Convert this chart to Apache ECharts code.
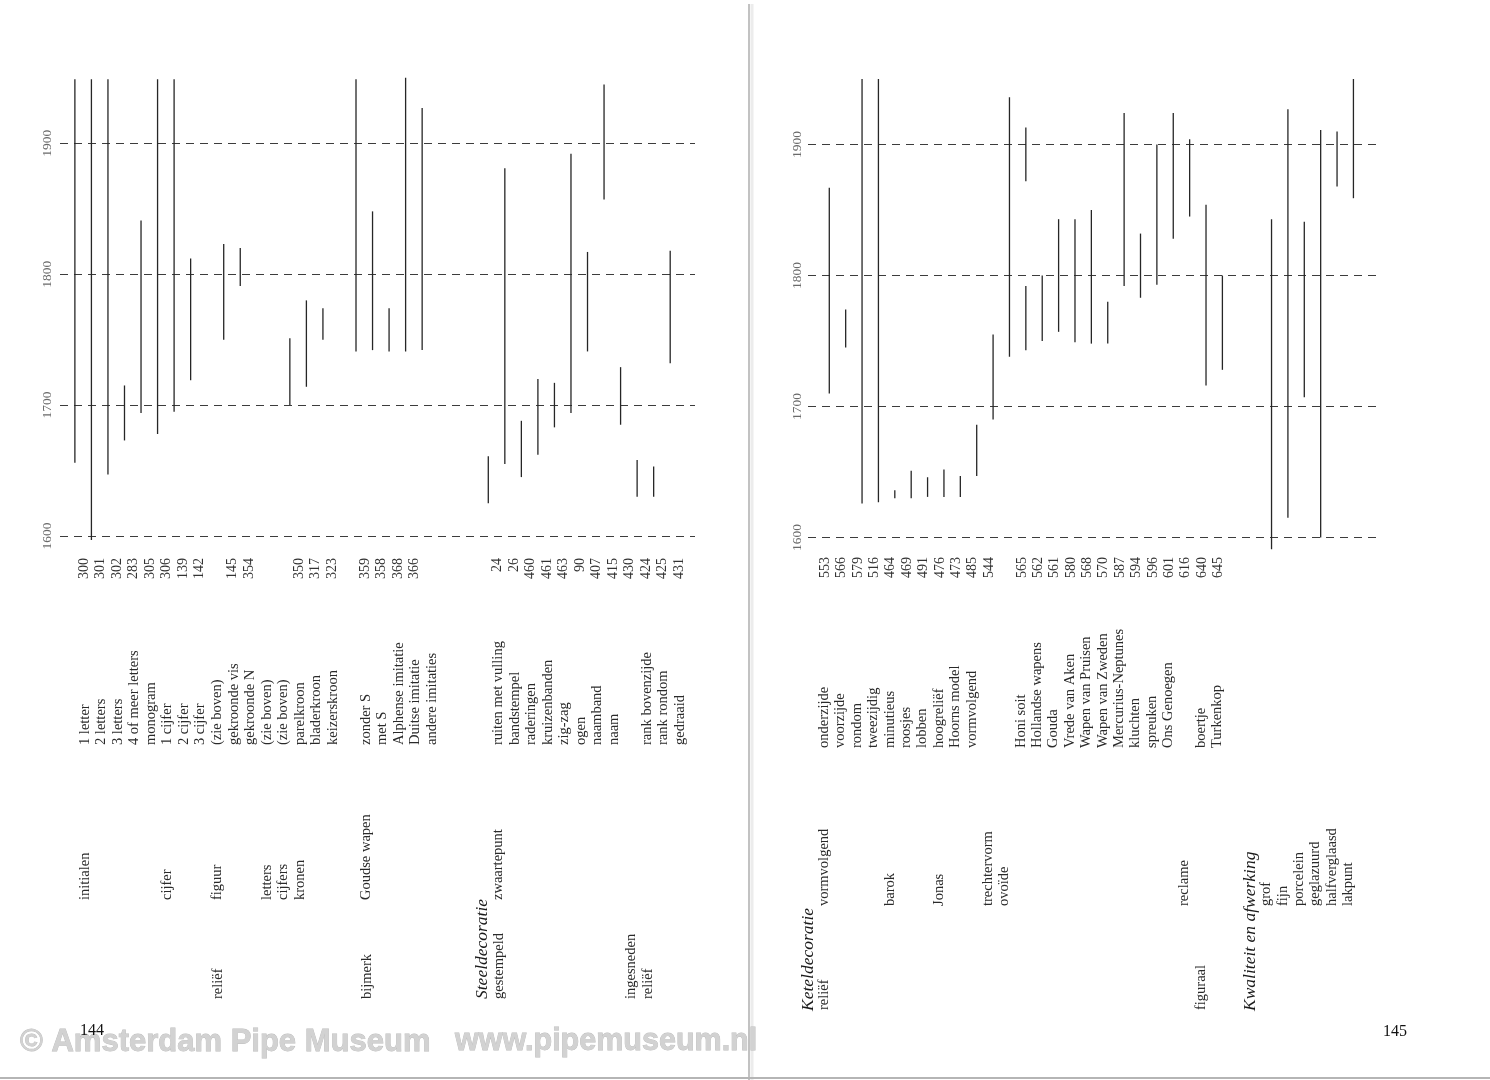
<!DOCTYPE html>
<html>
<head>
<meta charset="utf-8">
<script src="https://cdn.jsdelivr.net/npm/echarts@6/dist/echarts.min.js"></script>
<style>
html,body{margin:0;padding:0;background:#ffffff;}
#c{width:1490px;height:1080px;}
</style>
</head>
<body>
<div id="c"></div>
<script>
// ---------- data (years) ----------
const yearTicks = [1600, 1700, 1800, 1900];

// page 144 (left)
const leftNumbers = ['300','301','302','283','305','306','139','142','','145','354','','','350','317','323','','359','358','368','366','','','','','24','26','460','461','463','90','407','415','430','424','425','431'];
const leftNames = ['1 letter','2 letters','3 letters','4 of meer letters','monogram','1 cijfer','2 cijfer','3 cijfer','(zie boven)','gekroonde vis','gekroonde N','(zie boven)','(zie boven)','parelkroon','bladerkroon','keizerskroon','','zonder S','met S','Alphense imitatie','Duitse imitatie','andere imitaties','','','','ruiten met vulling','bandstempel','raderingen','kruizenbanden','zig-zag','ogen','naamband','naam','','rank bovenzijde','rank rondom','gedraaid'];
const leftLineSlots = [0,1,2,3,4,5,6,7,9,10,13,14,15,17,18,19,20,21,25,26,27,28,29,30,31,32,33,34,35,36];
const leftLineStart = [1656,1597,1647,1673,1694,1678,1695,1719,1750,1791,1700,1714,1750,1741,1742,1741,1741,1742,1625,1655,1645,1662,1683,1694,1741,1857,1685,1630,1630,1732];
const leftLineEnd   = [1949,1949,1949,1715,1841,1949,1949,1812,1823,1820,1751,1780,1774,1949,1848,1774,1950,1927,1661,1881,1688,1720,1717,1892,1817,1945,1729,1658,1653,1818];
const leftGroupSlots = [0,5,8,11,12,13,17,25];
const leftGroups = ['initialen','cijfer','figuur','letters','cijfers','kronen','Goudse wapen','zwaartepunt'];
const leftKindSlots = [8,17,25,33,34];
const leftKinds = ['reliëf','bijmerk','gestempeld','ingesneden','reliëf'];
const leftHeadingSlots = [24];
const leftHeadings = ['Steeldecoratie'];

// page 145 (right)
const rightNumbers = ['553','566','579','516','464','469','491','476','473','485','544','','565','562','561','580','568','570','587','594','596','601','616','640','645'];
const rightNames = ['onderzijde','voorzijde','rondom','tweezijdig','minutieus','roosjes','lobben','hoogreliëf','Hoorns model','vormvolgend','','','Honi soit','Hollandse wapens','Gouda','Vrede van Aken','Wapen van Pruisen','Wapen van Zweden','Mercurius-Neptunes','kluchten','spreuken','Ons Genoegen','','boertje','Turkenkop'];
const rightLineSlots = [0,1,2,3,4,5,6,7,8,9,10,11,12,12,13,14,15,16,17,18,19,20,21,22,23,24,27,28,29,30,31,32];
const rightLineStart = [1710,1745,1626,1627,1630,1630,1631,1631,1631,1647,1690,1738,1872,1743,1750,1757,1749,1748,1748,1792,1783,1793,1828,1845,1716,1728,1591,1615,1707,1600,1868,1859];
const rightLineEnd   = [1867,1774,1950,1950,1636,1651,1646,1652,1647,1686,1755,1936,1913,1792,1800,1843,1843,1850,1780,1924,1832,1900,1924,1904,1854,1800,1843,1927,1841,1911,1910,1950];
const rightGroupSlots = [0,4,7,10,11,22,27,28,29,30,31,32];
const rightGroups = ['vormvolgend','barok','Jonas','trechtervorm','ovoïde','reclame','grof','fijn','porcelein','geglazuurd','halfverglaasd','lakpunt'];
const rightKindSlots = [0,23];
const rightKinds = ['reliëf','figuraal'];
const rightHeadingSlots = [-1,26];
const rightHeadings = ['Keteldecoratie','Kwaliteit en afwerking'];

const pageNumbers = ['144','145'];
const watermark = ['© Amsterdam Pipe Museum','www.pipemuseum.nl'];

// ---------- helpers ----------
const SERIF = '"Liberation Serif", "DejaVu Serif", serif';
const chart = echarts.init(document.getElementById('c'));

function bySlot(texts){
  const s = [], t = [];
  texts.forEach((v,i)=>{ if(v){ s.push(i); t.push(v);} });
  return {slots:s, texts:t};
}

function lineSeries(axis, slots, starts, ends){
  return {
    type:'custom', xAxisIndex:axis, yAxisIndex:axis, clip:false, silent:true, z:3,
    data: slots.map((s,i)=>[s, starts[i], ends[i]]),
    encode:{x:0, y:[1,2]},
    renderItem:function(params, api){
      const a = api.coord([api.value(0), api.value(1)]);
      const b = api.coord([api.value(0), api.value(2)]);
      return {type:'line', shape:{x1:a[0], y1:a[1], x2:b[0], y2:b[1]},
              style:{stroke:'#262626', lineWidth:1.3}};
    }
  };
}

function textSeries(axis, slots, texts, rowY, dx, align, font, color){
  return {
    type:'custom', xAxisIndex:axis, yAxisIndex:axis, clip:false, silent:true, z:4,
    data: slots.map(s=>[s, 1600]),
    encode:{x:0, y:1},
    renderItem:function(params, api){
      const p = api.coord([api.value(0), 1600]);
      return {type:'text', x:p[0]+dx, y:rowY, rotation:Math.PI/2,
              style:{text:texts[params.dataIndex], font:font, fill:color,
                     align:align, verticalAlign:'middle'}};
    }
  };
}

function yAxisFor(grid, margin){
  return {
    gridIndex:grid, type:'value', min:yearTicks[0], max:yearTicks[yearTicks.length-1], interval:100,
    axisLine:{show:false}, axisTick:{show:false},
    axisLabel:{rotate:90, margin:margin, color:'#6a6a6a', fontFamily:SERIF, fontSize:13.5,
               formatter:function(v){ return yearTicks.indexOf(v) >= 0 ? String(v) : ''; }},
    splitLine:{show:true, showMinLine:true, showMaxLine:true,
               lineStyle:{color:'#3c3c3c', width:1.2, type:[8,6]}}
  };
}

const FN = '14px ' + SERIF;
const FT = '14.5px ' + SERIF;
const FH = 'italic 17.5px ' + SERIF;

const ln = bySlot(leftNumbers), lnm = bySlot(leftNames);
const rn = bySlot(rightNumbers), rnm = bySlot(rightNames);

const option = {
  backgroundColor:'#ffffff',
  animation:false,
  grid:[
    {left:60, top:143.3, width:635, height:392.7, outerBoundsMode:'none', containLabel:false},
    {left:808, top:144.5, width:570, height:393, outerBoundsMode:'none', containLabel:false}
  ],
  xAxis:[
    {gridIndex:0, type:'value', min:-0.9, max:37.5, show:false},
    {gridIndex:1, type:'value', min:-1.3, max:33.5, show:false}
  ],
  yAxis:[ yAxisFor(0, 6), yAxisFor(1, 4) ],
  series:[
    lineSeries(0, leftLineSlots, leftLineStart, leftLineEnd),
    lineSeries(1, rightLineSlots, rightLineStart, rightLineEnd),

    textSeries(0, ln.slots, ln.texts, 558, 9, 'right', FN, '#333'),
    textSeries(0, lnm.slots, lnm.texts, 745, 10, 'left', FT, '#2a2a2a'),
    textSeries(0, leftGroupSlots, leftGroups, 900, 10, 'left', FT, '#2a2a2a'),
    textSeries(0, leftKindSlots, leftKinds, 999, 11, 'left', FT, '#2a2a2a'),
    textSeries(0, leftHeadingSlots, leftHeadings, 999, 11, 'left', FH, '#1a1a1a'),

    textSeries(1, rn.slots, rn.texts, 557, -4, 'right', FN, '#333'),
    textSeries(1, rnm.slots, rnm.texts, 748, -5, 'left', FT, '#2a2a2a'),
    textSeries(1, rightGroupSlots, rightGroups, 906, -5, 'left', FT, '#2a2a2a'),
    textSeries(1, rightKindSlots, rightKinds, 1010, -5, 'left', FT, '#2a2a2a'),
    textSeries(1, rightHeadingSlots, rightHeadings, 1011, -5, 'left', FH, '#1a1a1a')
  ],
  graphic:[
    {type:'line', silent:true, z:1, shape:{x1:749, y1:4, x2:749, y2:1080}, style:{stroke:'#c2c2c2', lineWidth:2}},
    {type:'line', silent:true, z:1, shape:{x1:752, y1:4, x2:752, y2:1080}, style:{stroke:'#ececec', lineWidth:3}},
    {type:'line', silent:true, z:1, shape:{x1:0, y1:1078, x2:1490, y2:1078}, style:{stroke:'#b5b5b5', lineWidth:2}},
    {type:'text', silent:true, z:5, x:20, y:1042,
     style:{text:watermark[0], font:'bold 31px "Liberation Sans", Arial, sans-serif', fill:'#d2d2d2', stroke:'#bcbcbc', lineWidth:0.8, verticalAlign:'middle'}},
    {type:'text', silent:true, z:5, x:455, y:1042,
     style:{text:watermark[1], font:'bold 30.5px "Liberation Sans", Arial, sans-serif', fill:'#d2d2d2', stroke:'#bcbcbc', lineWidth:0.8, verticalAlign:'middle'}},
    {type:'text', silent:true, z:6, x:80, y:1031,
     style:{text:pageNumbers[0], font:'16px ' + SERIF, fill:'#111', verticalAlign:'middle'}},
    {type:'text', silent:true, z:6, x:1383, y:1032,
     style:{text:pageNumbers[1], font:'16px ' + SERIF, fill:'#111', verticalAlign:'middle'}}
  ]
};
chart.setOption(option);
</script>
</body>
</html>
